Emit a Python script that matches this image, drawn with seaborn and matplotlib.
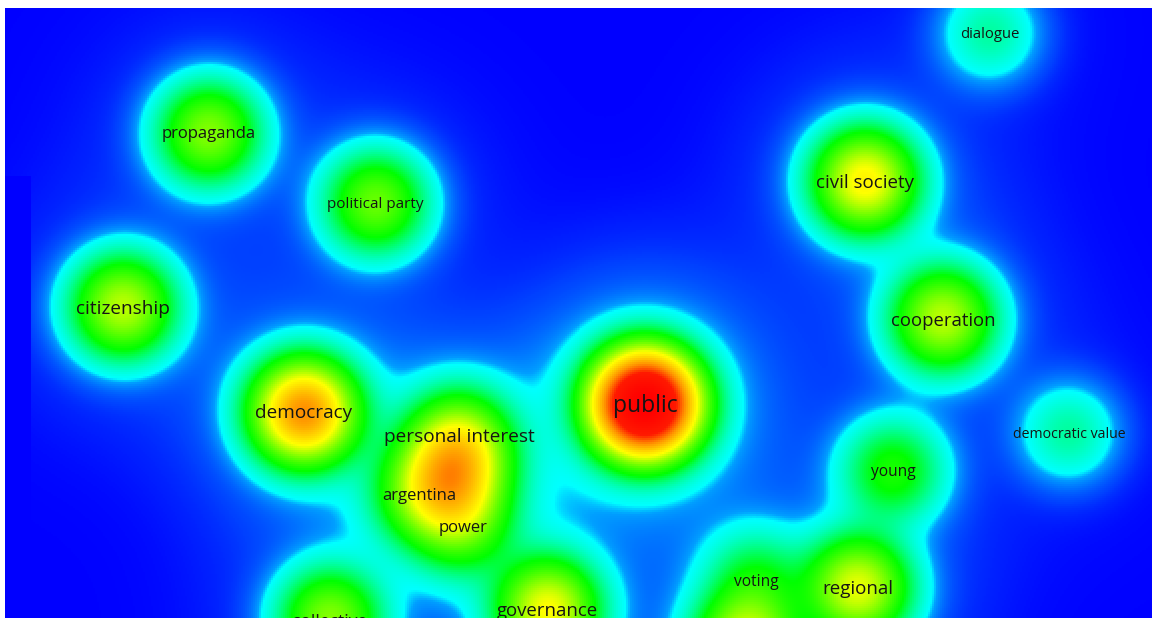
import numpy as np
import pandas as pd
import matplotlib
matplotlib.use("Agg")
import matplotlib.pyplot as plt
import seaborn as sns
from matplotlib.colors import LinearSegmentedColormap

# ---- data: keyword map (map coordinates in image pixels); "" = item whose label is hidden ----
labels = ["dialogue", "propaganda", "political party", "civil society", "citizenship",
          "cooperation", "democracy", "public", "personal interest", "argentina",
          "power", "democratic value", "young", "voting", "regional",
          "governance", "collective", "", "", ""]
map_x = [991, 209, 376, 866, 123, 944, 304, 646, 460, 420, 463, 1070, 894, 757, 859, 548, 330,
         456, 449, 747]
map_y = [33, 133, 203, 181, 307, 319, 412, 404, 436, 494, 526, 433, 471, 581, 588, 610, 620,
         460, 492, 645]
weights = [0.05, 0.19, 0.17, 0.30, 0.23, 0.23, 0.47, 1.00, 0.12, 0.10, 0.11, 0.05,
           0.11, 0.08, 0.26, 0.28, 0.19, 0.22, 0.18, 0.26]

# label font sizes (style)
label_pt = [10.7, 12, 11, 13.5, 13.7, 13.3, 13.7, 16.5, 13.7, 12, 12, 10.2,
            11.2, 11.2, 13.5, 13.4, 12.5, 10, 10, 10]

items = pd.DataFrame({"label": labels, "x": map_x, "y": map_y, "w": weights})

# ---- density grid ----
X0, X1, Y0, Y1 = 5, 1152, 8, 618
step = 2
xs = np.arange(X0, X1, step) + step / 2
ys = np.arange(Y0, Y1, step) + step / 2
GX, GY = np.meshgrid(xs, ys)
sigma, tau, tail = 32.0, 80.0, 0.03
dens = np.zeros_like(GX)
for _, r in items.iterrows():
    d2 = (GX - r["x"]) ** 2 + (GY - r["y"]) ** 2
    dens += r["w"] * (np.exp(-d2 / (2 * sigma ** 2)) + tail * np.exp(-d2 / (2 * tau ** 2)))
# tile artifact of the original rendering: flat strip at the left edge
dens[(GX < 31) & (GY > 175)] = 0.0

cmap = LinearSegmentedColormap.from_list(
    "vos",
    [(0.0, (0, 0, 1)), (0.002, (0, 0.1, 1)), (0.006, (0, 0.25, 1)), (0.012, (0, 0.42, 1)),
     (0.019, (0, 0.62, 1)), (0.024, (0, 1, 1)), (0.10, (0, 1, 0)),
     (0.29, (1, 1, 0)), (0.48, (1, 0.58, 0)), (0.65, (1, 0.1, 0)), (1.0, (1, 0, 0))],
    N=8192)

W, H = 1152, 618
fig = plt.figure(figsize=(W / 100, H / 100), dpi=100)
ax = fig.add_axes([X0 / W, 0, (X1 - X0) / W, (Y1 - Y0) / H])
sns.heatmap(dens, cmap=cmap, vmin=0, vmax=1, cbar=False, xticklabels=False,
            yticklabels=False, ax=ax, rasterized=True)
ax.set_axis_off()

for (_, r), fs in zip(items.iterrows(), label_pt):
    if not r["label"]:
        continue
    ax.text((r["x"] - X0) / step, (r["y"] + 1.5 - Y0) / step, r["label"], ha="center",
            va="center", fontsize=fs, family=["Open Sans", "DejaVu Sans"], color="#151515",
            clip_on=True)

fig.savefig("out.png", dpi=100, facecolor="white")
